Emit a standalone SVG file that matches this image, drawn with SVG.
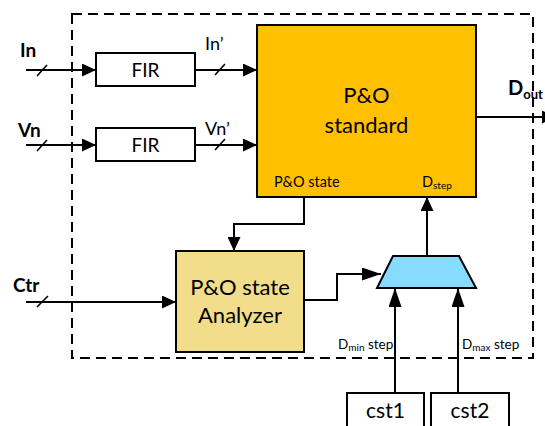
<svg xmlns="http://www.w3.org/2000/svg" width="545" height="426" viewBox="0 0 545 426">
  <style>
    .t { font-family: Lato, "Open Sans", "Liberation Sans", sans-serif; fill: #000; }
    .b { font-weight: bold; }
    .box { stroke: #000; stroke-width: 2; }
    .w { fill: none; stroke: #000; stroke-width: 2; }
    .slash { stroke: #000; stroke-width: 1.6; }
  </style>
  <defs>
    <marker id="arr" markerUnits="userSpaceOnUse" markerWidth="14" markerHeight="13" refX="14" refY="6.5" orient="auto">
      <path d="M0,0 L14,6.5 L0,13 z" fill="#000"/>
    </marker>
    <marker id="arrL" markerUnits="userSpaceOnUse" markerWidth="19" markerHeight="13" refX="19" refY="6.5" orient="auto">
      <path d="M0,0 L19,6.5 L0,13 z" fill="#000"/>
    </marker>
  </defs>

  <rect width="545" height="426" fill="#fff"/>

  <!-- system boundary -->
  <rect id="boundary" x="72" y="14" width="461" height="344" fill="none" stroke="#000" stroke-width="2" stroke-dasharray="10 6"/>

  <!-- connectors -->
  <g id="connectors">
    <line class="w" x1="26" y1="70" x2="96" y2="70" marker-end="url(#arr)"/>
    <line class="slash" x1="37" y1="76" x2="47" y2="65"/>
    <line class="w" x1="195" y1="70" x2="257" y2="70" marker-end="url(#arr)"/>
    <line class="slash" x1="215" y1="75" x2="225" y2="64"/>

    <line class="w" x1="26" y1="145" x2="96" y2="145" marker-end="url(#arr)"/>
    <line class="slash" x1="37" y1="151" x2="47" y2="140"/>
    <line class="w" x1="195" y1="145" x2="257" y2="145" marker-end="url(#arr)"/>
    <line class="slash" x1="215" y1="150" x2="225" y2="139"/>

    <line class="w" x1="26" y1="302" x2="176" y2="302" marker-end="url(#arr)"/>
    <line class="slash" x1="37" y1="307" x2="48" y2="296"/>

    <line class="w" x1="476" y1="117" x2="556" y2="117" marker-end="url(#arr)"/>

    <polyline class="w" points="304,197 304,224 234,224 234,251" marker-end="url(#arr)"/>
    <polyline class="w" points="304,300 337,300 337,274 381,274" marker-end="url(#arrL)"/>
    <line class="w" x1="427" y1="256" x2="427" y2="197" marker-end="url(#arr)"/>
    <line class="w" x1="395" y1="393" x2="395" y2="288" marker-end="url(#arrL)"/>
    <line class="w" x1="458" y1="393" x2="458" y2="288" marker-end="url(#arrL)"/>
  </g>

  <!-- external labels -->
  <text class="t b" x="20" y="57" font-size="19">In</text>
  <text class="t b" x="18" y="137" font-size="19">Vn</text>
  <text class="t b" x="13" y="292" font-size="19">Ctr</text>
  <text class="t" x="205" y="50" font-size="18">In’</text>
  <text class="t" x="205" y="135" font-size="18">Vn’</text>
  <text class="t b" x="508" y="95" font-size="20">D<tspan font-size="13" dy="4">out</tspan></text>
  <text class="t" x="338" y="349" font-size="13.5">D<tspan font-size="10" dy="2">min</tspan><tspan dy="-2"> step</tspan></text>
  <text class="t" x="462" y="349" font-size="13.5">D<tspan font-size="10" dy="2">max</tspan><tspan dy="-2"> step</tspan></text>

  <g id="fir1">
    <rect class="box" x="96" y="53" width="99" height="33" fill="#fff"/>
    <text class="t" x="145.5" y="77" font-size="19" text-anchor="middle">FIR</text>
  </g>
  <g id="fir2">
    <rect class="box" x="96" y="128" width="99" height="33" fill="#fff"/>
    <text class="t" x="145.5" y="152" font-size="19" text-anchor="middle">FIR</text>
  </g>

  <g id="po-standard">
    <rect class="box" x="257" y="25" width="219" height="172" fill="#FFC000"/>
    <text class="t" x="366.5" y="103" font-size="22" text-anchor="middle">P&amp;O</text>
    <text class="t" x="366.5" y="133" font-size="22" text-anchor="middle">standard</text>
    <text class="t" x="274" y="187" font-size="14.5">P&amp;O state</text>
    <text class="t" x="422" y="187" font-size="14.5">D<tspan font-size="10" dy="2">step</tspan></text>
  </g>

  <g id="po-analyzer">
    <rect class="box" x="176" y="251" width="128" height="101" fill="#F2DE8A"/>
    <text class="t" x="240" y="295" font-size="22" text-anchor="middle">P&amp;O state</text>
    <text class="t" x="240" y="323" font-size="22" text-anchor="middle">Analyzer</text>
  </g>

  <g id="mux">
    <polygon class="box" points="393,256 459,256 476,288 377,288" fill="#87DBFF"/>
  </g>

  <g id="cst1">
    <rect class="box" x="347" y="393" width="77" height="40" fill="#fff"/>
    <text class="t" x="385.5" y="418" font-size="21" text-anchor="middle">cst1</text>
  </g>
  <g id="cst2">
    <rect class="box" x="431" y="393" width="78" height="40" fill="#fff"/>
    <text class="t" x="470" y="418" font-size="21" text-anchor="middle">cst2</text>
  </g>
</svg>
